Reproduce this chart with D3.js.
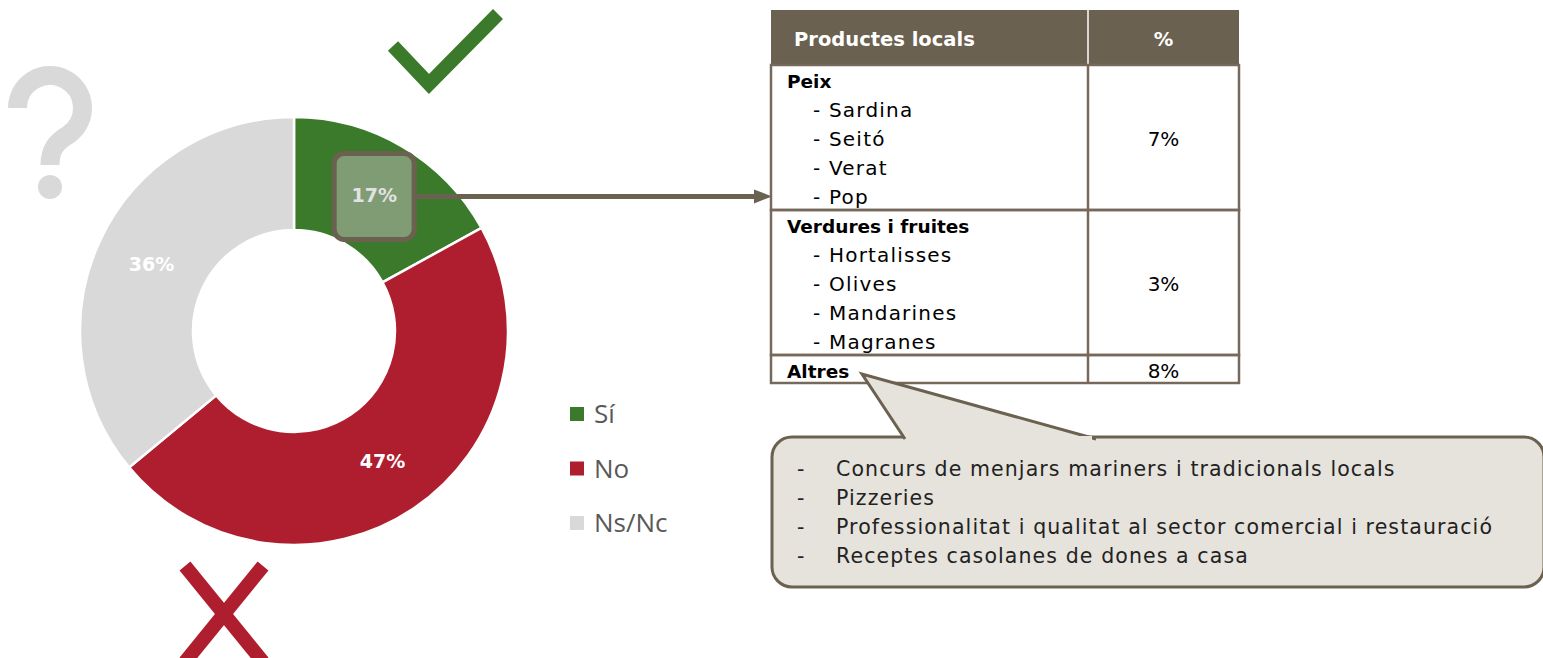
<!DOCTYPE html>
<html>
<head>
<meta charset="utf-8">
<script src="https://cdn.jsdelivr.net/npm/d3@7"></script>
<style>
  body { margin: 0; background: #fff; }
  svg { display: block; }
</style>
</head>
<body>
<div id="chart"></div>
<script>
// donut data
const categories = ["Sí", "No", "Ns/Nc"];
const shares = [17, 47, 36];
const sliceColors = ["#3b7a2b", "#ae1e2e", "#d9d9d9"];

// table data
const tableHeader = ["Productes locals", "%"];
const groups = ["Peix", "Verdures i fruites", "Altres"];
const groupItems = [
  ["Sardina", "Seitó", "Verat", "Pop"],
  ["Hortalisses", "Olives", "Mandarines", "Magranes"],
  []
];
const groupShares = ["7%", "3%", "8%"];

// callout notes for "Altres"
const otherNotes = [
  "Concurs de menjars mariners i tradicionals locals",
  "Pizzeries",
  "Professionalitat i qualitat al sector comercial i restauració",
  "Receptes casolanes de dones a casa"
];

const W = 1543, H = 658;
const brown = "#6b6150";
const font = "'DejaVu Sans', sans-serif";

const svg = d3.select("#chart").append("svg")
  .attr("width", W).attr("height", H);

// ---------- donut ----------
const cx = 294, cy = 331;
const outerR = 214, innerR = 101;

const pie = d3.pie().sort(null).value(d => d.value);
const arc = d3.arc().innerRadius(innerR).outerRadius(outerR);

const slices = pie(categories.map((c, i) => ({ name: c, value: shares[i], color: sliceColors[i] })));

const donut = svg.append("g").attr("transform", `translate(${cx},${cy})`);

donut.selectAll("path.slice")
  .data(slices)
  .enter().append("path")
  .attr("class", "slice")
  .attr("d", arc)
  .attr("fill", d => d.data.color)
  .attr("stroke", "#fff")
  .attr("stroke-width", 2.5);

// highlight box around the "Sí" label
const siC = arc.centroid(slices[0]);
donut.append("rect")
  .attr("x", siC[0] - 40).attr("y", siC[1] - 42)
  .attr("width", 80).attr("height", 86)
  .attr("rx", 10)
  .attr("fill", "#7f9c74")
  .attr("stroke", brown)
  .attr("stroke-width", 5);

donut.selectAll("text.pct")
  .data(slices)
  .enter().append("text")
  .attr("class", "pct")
  .attr("transform", d => `translate(${arc.centroid(d)})`)
  .attr("text-anchor", "middle")
  .attr("dy", "0.36em")
  .attr("font-family", font)
  .attr("font-weight", "bold")
  .attr("font-size", 19)
  .attr("fill", (d, i) => i === 0 ? "#e2e2e2" : "#fff")
  .text(d => d.data.value + "%");

// connector from the "Sí" box to the table
const tableX = 771, tableR = 1239, colSplit = 1088;
svg.append("line")
  .attr("x1", cx + siC[0] + 40).attr("y1", cy + siC[1] + 1)
  .attr("x2", tableX - 14).attr("y2", cy + siC[1] + 1)
  .attr("stroke", brown).attr("stroke-width", 5);
svg.append("path")
  .attr("d", `M${tableX - 17},${cy + siC[1] - 6} L${tableX + 1},${cy + siC[1] + 1} L${tableX - 17},${cy + siC[1] + 8} Z`)
  .attr("fill", brown);

// ---------- icons ----------
// check mark
svg.append("polyline")
  .attr("points", "393,46 429,84 498,14")
  .attr("fill", "none")
  .attr("stroke", "#3b7a2b")
  .attr("stroke-width", 14);

// question mark
svg.append("path")
  .attr("d", "M17.5,108 A32.5,32.5 0 1 1 68,135 C56,142 50,150 50,165")
  .attr("fill", "none")
  .attr("stroke", "#d9d9d9")
  .attr("stroke-width", 19);
svg.append("circle")
  .attr("cx", 50).attr("cy", 187).attr("r", 12)
  .attr("fill", "#d9d9d9");

// cross
const cross = svg.append("g").attr("stroke", "#ae1e2e").attr("stroke-width", 14);
cross.append("line").attr("x1", 185).attr("y1", 566).attr("x2", 263).attr("y2", 662);
cross.append("line").attr("x1", 263).attr("y1", 566).attr("x2", 185).attr("y2", 662);

// ---------- legend ----------
const legendY = d3.scalePoint().domain(categories).range([414, 523]);
const legend = svg.append("g");
legend.selectAll("rect")
  .data(categories)
  .enter().append("rect")
  .attr("x", 570).attr("y", d => legendY(d) - 7)
  .attr("width", 14).attr("height", 14)
  .attr("fill", (d, i) => sliceColors[i]);
legend.selectAll("text")
  .data(categories)
  .enter().append("text")
  .attr("x", 594).attr("y", d => legendY(d))
  .attr("dy", "0.36em")
  .attr("font-family", "'Open Sans', sans-serif")
  .attr("font-size", 26)
  .attr("fill", "#595959")
  .text(d => d);

// ---------- table ----------
const headTop = 10, headBottom = 65, lineH = 29;
const table = svg.append("g");

table.append("rect")
  .attr("x", tableX).attr("y", headTop)
  .attr("width", tableR - tableX).attr("height", headBottom - headTop)
  .attr("fill", brown);
table.append("line")
  .attr("x1", colSplit).attr("x2", colSplit)
  .attr("y1", headTop).attr("y2", headBottom)
  .attr("stroke", "#fff").attr("stroke-width", 1.5);
table.append("text")
  .attr("x", 794).attr("y", 46)
  .attr("font-family", font).attr("font-weight", "bold").attr("font-size", 19.5)
  .attr("fill", "#fff").text(tableHeader[0]);
table.append("text")
  .attr("x", (colSplit + tableR) / 2).attr("y", 46)
  .attr("text-anchor", "middle")
  .attr("font-family", font).attr("font-weight", "bold").attr("font-size", 19.5)
  .attr("fill", "#fff").text(tableHeader[1]);

let rowTop = headBottom;
groups.forEach((g, i) => {
  const lines = 1 + groupItems[i].length;
  const h = lines * lineH - (lines === 1 ? 1 : 0);
  table.append("rect")
    .attr("x", tableX).attr("y", rowTop)
    .attr("width", tableR - tableX).attr("height", h)
    .attr("fill", "none").attr("stroke", "#76695b").attr("stroke-width", 2.5);
  table.append("line")
    .attr("x1", colSplit).attr("x2", colSplit)
    .attr("y1", rowTop).attr("y2", rowTop + h)
    .attr("stroke", "#76695b").attr("stroke-width", 2.5);
  table.append("text")
    .attr("x", 787).attr("y", rowTop + 23)
    .attr("font-family", font).attr("font-weight", "bold").attr("font-size", 18.5)
    .attr("fill", "#000").text(g);
  groupItems[i].forEach((it, j) => {
    table.append("text")
      .attr("x", 813).attr("y", rowTop + 23 + (j + 1) * lineH)
      .attr("font-family", font).attr("font-size", 20)
      .attr("letter-spacing", 1.2)
      .attr("fill", "#000").text("- " + it);
  });
  table.append("text")
    .attr("x", (colSplit + tableR) / 2)
    .attr("y", lines === 1 ? rowTop + 23 : rowTop + h / 2 + 8)
    .attr("text-anchor", "middle")
    .attr("font-family", font).attr("font-size", 20)
    .attr("fill", "#000").text(groupShares[i]);
  rowTop += h;
});

// ---------- callout ----------
const boxX = 772, boxY = 437, boxW = 772, boxH = 150;
const callout = svg.append("g");
callout.append("rect")
  .attr("x", boxX).attr("y", boxY)
  .attr("width", boxW).attr("height", boxH)
  .attr("rx", 20)
  .attr("fill", "#e6e3dc")
  .attr("stroke", brown).attr("stroke-width", 3);
// pointer toward "Altres"
callout.append("path")
  .attr("d", `M905,${boxY + 2} L862,374 L1096,${boxY + 2}`)
  .attr("fill", "#e6e3dc")
  .attr("stroke", brown).attr("stroke-width", 3)
  .attr("stroke-linejoin", "miter");
callout.append("rect")
  .attr("x", 906).attr("y", boxY - 1).attr("width", 186).attr("height", 5)
  .attr("fill", "#e6e3dc");

callout.selectAll("text.dash")
  .data(otherNotes)
  .enter().append("text")
  .attr("class", "dash")
  .attr("x", 797).attr("y", (d, i) => 476 + i * lineH)
  .attr("font-family", font).attr("font-size", 20.5)
  .attr("fill", "#222").text("-");
callout.selectAll("text.note")
  .data(otherNotes)
  .enter().append("text")
  .attr("class", "note")
  .attr("x", 836).attr("y", (d, i) => 476 + i * lineH)
  .attr("font-family", font).attr("font-size", 20.5)
  .attr("letter-spacing", 1.1)
  .attr("fill", "#222").text(d => d);
</script>
</body>
</html>
